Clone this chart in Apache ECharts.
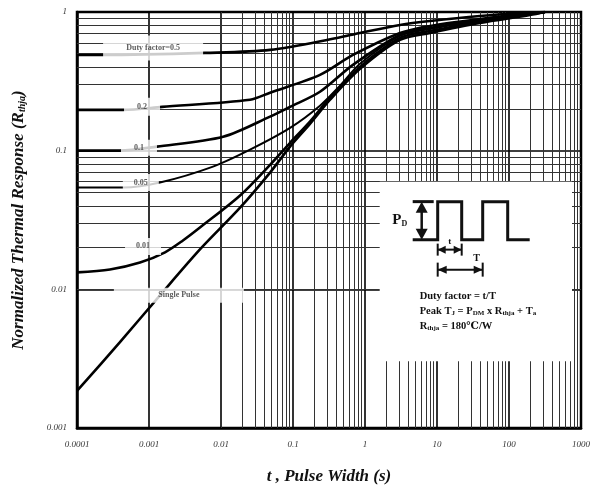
<!DOCTYPE html>
<html><head><meta charset="utf-8">
<script src="https://cdn.jsdelivr.net/npm/echarts@6/dist/echarts.min.js"></script>
<style>html,body{margin:0;padding:0;background:#fff}#c{width:594px;height:492px}</style>
</head><body><div id="c"></div>
<script>
// ---------- data ----------
const xTickLabels = ['0.0001','0.001','0.01','0.1','1','10','100','1000'];
const yTickLabels = ['0.001','0.01','0.1','1'];
const gridMultipliers = [2,3,4,5,6,7,8,9];
const xDecades = [1e-4,1e-3,1e-2,1e-1,1,10,100];
const yDecades = [1e-3,1e-2,1e-1];

const duty05 = [[1e-4,0.49],[2.3e-4,0.49],[6.0e-3,0.507],[0.048,0.533],[0.408,0.65],[0.85,0.706],[3.06,0.806],[8,0.861],[39.5,0.936],[196,0.992],[316,1]];
const duty02 = [[1e-4,0.197],[4.36e-4,0.197],[1.52e-3,0.207],[0.0253,0.233],[0.048,0.262],[0.237,0.352],[0.68,0.49],[3.06,0.706],[8,0.793],[39.5,0.89],[196,0.983],[316,1]];
const duty01 = [[1e-4,0.1],[3.95e-4,0.1],[1.29e-3,0.107],[0.0107,0.126],[0.048,0.176],[0.091,0.207],[0.237,0.266],[0.68,0.416],[3.06,0.683],[8,0.767],[39.5,0.876],[196,0.967],[316,1]];
const duty005 = [[1e-4,0.0542],[4.36e-4,0.0542],[1.42e-3,0.0589],[7.74e-3,0.0767],[0.0253,0.1017],[0.091,0.146],[0.237,0.211],[0.45,0.294],[0.853,0.423],[3.06,0.672],[8,0.755],[39.5,0.861],[196,0.967],[316,1]];
const duty001 = [[1e-4,0.01325],[2.87e-4,0.0139],[7.5e-4,0.0156],[1.67e-3,0.0185],[2.96e-3,0.0225],[5.1e-3,0.0279],[0.0184,0.0475],[0.048,0.079],[0.091,0.114],[0.172,0.162],[0.327,0.241],[0.853,0.402],[3.06,0.65],[8,0.73],[39.5,0.847],[196,0.967],[316,1]];
const singlePulse = [[1e-4,0.00185],[3.95e-4,0.00416],[1.42e-3,0.00905],[5.1e-3,0.0194],[0.0184,0.0388],[0.048,0.0695],[0.091,0.107],[0.172,0.156],[0.327,0.233],[0.853,0.389],[3.06,0.629],[8,0.706],[39.5,0.834],[196,0.951],[316,1]];

const curveNames = ['0.5','0.2','0.1','0.05','0.01','Single Pulse'];
const curveData = [duty05, duty02, duty01, duty005, duty001, singlePulse];

const labelTexts = ['Duty factor=0.5','0.2','0.1','0.05','0.01','Single Pulse'];
const labelT = [1.14e-3, 8.0e-4, 7.26e-4, 7.7e-4, 8.26e-4, 2.6e-3];
const labelR = [0.551, 0.207, 0.105, 0.0589, 0.0204, 0.00906];

// ---------- layout / style ----------
const labelBox = [[100,[4,0,12,0]],[36,[5,0,4,0]],[36,[4,0,3,0]],[36,[4,0,4,0]],[36,[4,0,4,0]],[130,[3,0,3,0]]];
const insetBox = {t0:1.6, t1:750, rTop:0.0598, rBottom:0.00303};
const serif = '"Liberation Serif","DejaVu Serif",serif';

const chart = echarts.init(document.getElementById('c'));

const xMinor = [];
xDecades.forEach(d => gridMultipliers.forEach(m => xMinor.push(d*m)));
const yMinor = [];
yDecades.forEach(d => gridMultipliers.forEach(m => yMinor.push(d*m)));

const series = [];
series.push({
  type:'line', data:[[1e-4,1e-3]], symbol:'none', z:1, silent:true, lineStyle:{width:0},
  markLine:{z:1, silent:true, symbol:['none','none'], animation:false, label:{show:false},
    lineStyle:{color:'#333', width:1, type:'solid'},
    emphasis:{disabled:true},
    data:[...xMinor.map(v=>({xAxis:v})), ...yMinor.map(v=>({yAxis:v}))]}
});
series.push({
  type:'line', data:[[1e-4,1e-3]], symbol:'none', z:4, silent:true, lineStyle:{width:0},
  markArea:{z:4, silent:true, animation:false, itemStyle:{color:'#fff', opacity:1},
    data:[[{xAxis:insetBox.t0, yAxis:insetBox.rTop},{xAxis:insetBox.t1, yAxis:insetBox.rBottom}]]}
});
curveData.forEach((d,i)=>{
  series.push({type:'line', name:curveNames[i], data:d, symbol:'none', smooth:0.3, z:3, silent:true,
    lineStyle:{color:'#000', width: i===3 ? 2 : 2.6}});
});
series.push({
  type:'scatter', z:10, symbolSize:0, silent:true,
  data: labelTexts.map((s,i)=>({name:s, value:[labelT[i], labelR[i]],
    label:{width:labelBox[i][0], padding:labelBox[i][1]}})),
  label:{show:true, position:'inside', formatter:p=>p.name, backgroundColor:'#fff',
    fontFamily:serif, fontSize:8, fontWeight:'bold', color:'#333', align:'center', lineHeight:9}
});

chart.setOption({
  animation:false,
  backgroundColor:'#fff',
  grid:{left:77, top:12, width:504, height:416, show:true, borderColor:'#000', borderWidth:2.5},
  xAxis:{type:'log', logBase:10, min:1e-4, max:1000, splitNumber:7,
    axisLine:{show:true, lineStyle:{color:'#000', width:2.5}},
    axisTick:{show:false},
    splitLine:{show:true, lineStyle:{color:'#000', width:1.6}},
    axisLabel:{showMinLabel:true, showMaxLabel:true, margin:12, fontFamily:serif, fontStyle:'italic', fontSize:9, color:'#333',
      formatter:v=>xTickLabels[Math.round(Math.log10(v))+4]},
    name:'t , Pulse Width (s)', nameLocation:'middle', nameGap:40,
    nameTextStyle:{fontFamily:serif, fontSize:17, fontWeight:'bold', fontStyle:'italic', color:'#111'}
  },
  yAxis:{type:'log', logBase:10, min:1e-3, max:1, splitNumber:3,
    axisLine:{show:true, lineStyle:{color:'#000', width:2.5}},
    axisTick:{show:false},
    splitLine:{show:true, lineStyle:{color:'#000', width:1.6}},
    axisLabel:{showMinLabel:true, showMaxLabel:true, margin:10, fontFamily:serif, fontStyle:'italic', fontSize:9, color:'#333',
      formatter:v=>yTickLabels[Math.round(Math.log10(v))+3]},
    name:'Normalized Thermal Response (R{sub|thja})', nameLocation:'middle', nameGap:50,
    nameTextStyle:{fontFamily:serif, fontSize:17, fontWeight:'bold', fontStyle:'italic', color:'#111',
      rich:{sub:{fontFamily:serif, fontSize:10, fontWeight:'bold', fontStyle:'italic', color:'#111', verticalAlign:'bottom', padding:[7,0,0,0]}}}
  },
  series
});

const p0 = chart.convertToPixel({xAxisIndex:0, yAxisIndex:0}, [insetBox.t0, insetBox.rTop]);
const K = '#111';
const ZG = 120;
const ln = (x1,y1,x2,y2,w)=>({type:'line', z:ZG, shape:{x1:x1,y1:y1,x2:x2,y2:y2}, style:{stroke:K, lineWidth:w||2}});
const tri = (pts)=>({type:'polygon', z:ZG, shape:{points:pts}, style:{fill:K}});
const txt = (x,y,text,size,extra)=>({type:'text', z:ZG, x:x, y:y, style:Object.assign({text:text, fill:K, font:'bold '+size+'px '+serif, verticalAlign:'middle'}, extra||{})});
const subRich = {s:{fontFamily:serif, fontWeight:'bold', fontSize:7, fill:K, padding:[4,0,0,0]}};
chart.setOption({graphic:{elements:[{type:'group', x:p0[0], y:p0[1], z:ZG, children:[
  {type:'polyline', z:ZG, shape:{points:[[33,58],[58,58],[58,20],[82,20],[82,58],[103,58],[103,20],[128,20],[128,58],[150,58]]}, style:{stroke:K, lineWidth:3, fill:'none'}},
  ln(33,20,54,20,3),
  ln(42,24,42,54,2.5),
  tri([[42,20],[36,31],[48,31]]),
  tri([[42,58],[36,47],[48,47]]),
  txt(20,38,'P{s|D}',15,{align:'center', rich:{s:{fontFamily:serif, fontWeight:'bold', fontSize:8, fill:K, padding:[8,0,0,0]}}}),
  ln(58,68,82,68,2), ln(58,62,58,74,2), ln(82,62,82,74,2),
  tri([[58,68],[66,64],[66,72]]), tri([[82,68],[74,64],[74,72]]),
  txt(70,60,'t',9,{align:'center'}),
  ln(58,88,103,88,2), ln(58,81,58,95,2), ln(103,81,103,95,2),
  tri([[58,88],[67,84],[67,92]]), tri([[103,88],[94,84],[94,92]]),
  txt(97,77,'T',10,{align:'center'}),
  txt(40,115,'Duty factor = t/T',10.5),
  txt(40,130,'Peak T{s|J} = P{s|DM} x R{s|thja} + T{s|a}',10.5,{rich:subRich}),
  txt(40,145,'R{s|thja} = 180\u2103/W',10.5,{rich:subRich})
]}]}});
</script>
</body></html>
